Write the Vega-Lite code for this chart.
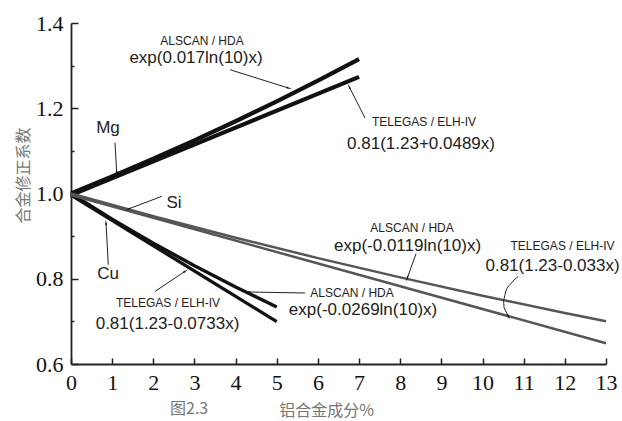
{
  "$schema": "https://vega.github.io/schema/vega-lite/v6.json",
  "width": 535,
  "height": 341,
  "autosize": "none",
  "padding": {"left": 71, "top": 23, "right": 16, "bottom": 57},
  "background": "white",
  "config": {"view": {"stroke": null}},
  "title": {"text": "图2.3", "orient": "bottom", "anchor": "start", "frame": "group", "align": "left", "dx": 99, "dy": -21, "font": "Noto Sans CJK SC", "fontSize": 16, "fontWeight": "normal", "color": "#777"},
  "datasets": {
    "curves": [
      {"series": "Mg ALSCAN", "group": "Mg", "x": 0, "y": 1.0},
      {"series": "Mg ALSCAN", "group": "Mg", "x": 1, "y": 1.0399},
      {"series": "Mg ALSCAN", "group": "Mg", "x": 2, "y": 1.0814},
      {"series": "Mg ALSCAN", "group": "Mg", "x": 3, "y": 1.1246},
      {"series": "Mg ALSCAN", "group": "Mg", "x": 4, "y": 1.1695},
      {"series": "Mg ALSCAN", "group": "Mg", "x": 5, "y": 1.2162},
      {"series": "Mg ALSCAN", "group": "Mg", "x": 6, "y": 1.2647},
      {"series": "Mg ALSCAN", "group": "Mg", "x": 7, "y": 1.3152},
      {"series": "Mg TELEGAS", "group": "Mg", "x": 0, "y": 0.9963},
      {"series": "Mg TELEGAS", "group": "Mg", "x": 7, "y": 1.2736},
      {"series": "Cu ALSCAN", "group": "Cu", "x": 0, "y": 1.0},
      {"series": "Cu ALSCAN", "group": "Cu", "x": 1, "y": 0.9400},
      {"series": "Cu ALSCAN", "group": "Cu", "x": 2, "y": 0.8836},
      {"series": "Cu ALSCAN", "group": "Cu", "x": 3, "y": 0.8306},
      {"series": "Cu ALSCAN", "group": "Cu", "x": 4, "y": 0.7807},
      {"series": "Cu ALSCAN", "group": "Cu", "x": 5, "y": 0.7339},
      {"series": "Cu TELEGAS", "group": "Cu", "x": 0, "y": 0.9963},
      {"series": "Cu TELEGAS", "group": "Cu", "x": 5, "y": 0.6994},
      {"series": "Si ALSCAN", "group": "Si", "x": 0, "y": 1.0},
      {"series": "Si ALSCAN", "group": "Si", "x": 2, "y": 0.9467},
      {"series": "Si ALSCAN", "group": "Si", "x": 4, "y": 0.8962},
      {"series": "Si ALSCAN", "group": "Si", "x": 6, "y": 0.8484},
      {"series": "Si ALSCAN", "group": "Si", "x": 8, "y": 0.8032},
      {"series": "Si ALSCAN", "group": "Si", "x": 10, "y": 0.7603},
      {"series": "Si ALSCAN", "group": "Si", "x": 12, "y": 0.7198},
      {"series": "Si ALSCAN", "group": "Si", "x": 13, "y": 0.7003},
      {"series": "Si TELEGAS", "group": "Si", "x": 0, "y": 0.9963},
      {"series": "Si TELEGAS", "group": "Si", "x": 13, "y": 0.6488}
    ],
    "arrows": [
      {"id": "a1", "x": 3.864, "y": 1.2904, "x2": 5.281, "y2": 1.2475},
      {"id": "a2", "x": 7.145, "y": 1.1771, "x2": 6.763, "y2": 1.2498},
      {"id": "a3", "x": 1.069, "y": 1.1192, "x2": 1.111, "y2": 1.0481},
      {"id": "a4", "x": 2.204, "y": 0.9932, "x2": 1.392, "y2": 0.9636},
      {"id": "a5", "x": 0.906, "y": 0.8330, "x2": 0.851, "y2": 0.9308},
      {"id": "a6", "x": 2.041, "y": 0.7703, "x2": 2.770, "y2": 0.8173},
      {"id": "a7", "x": 5.687, "y": 0.7666, "x2": 4.309, "y2": 0.7689},
      {"id": "a8", "x": 8.384, "y": 0.8588, "x2": 8.172, "y2": 0.8018},
      {"id": "a9", "x": 10.523, "y": 0.7321, "x2": 10.627, "y2": 0.7117}
    ],
    "curve": [
      {"ord": 1, "x": 10.870, "y": 0.8055},
      {"ord": 2, "x": 10.700, "y": 0.7900},
      {"ord": 3, "x": 10.560, "y": 0.7690},
      {"ord": 4, "x": 10.505, "y": 0.7490},
      {"ord": 5, "x": 10.523, "y": 0.7321}
    ],
    "labels": [
      {"kind": "small", "text": "ALSCAN / HDA", "x": 3.183, "y": 1.3575},
      {"kind": "big", "text": "exp(0.017ln(10)x)", "x": 3.038, "y": 1.3186},
      {"kind": "small", "text": "TELEGAS / ELH-IV", "x": 8.578, "y": 1.1680},
      {"kind": "big", "text": "0.81(1.23+0.0489x)", "x": 8.505, "y": 1.1169},
      {"kind": "big", "text": "Mg", "x": 0.899, "y": 1.1544},
      {"kind": "big", "text": "Si", "x": 2.503, "y": 0.9784},
      {"kind": "big", "text": "Cu", "x": 0.899, "y": 0.8118},
      {"kind": "small", "text": "TELEGAS / ELH-IV", "x": 2.357, "y": 0.7440},
      {"kind": "big", "text": "0.81(1.23-0.0733x)", "x": 2.345, "y": 0.6945},
      {"kind": "small", "text": "ALSCAN / HDA", "x": 6.829, "y": 0.7660},
      {"kind": "big", "text": "exp(-0.0269ln(10)x)", "x": 7.096, "y": 0.7274},
      {"kind": "small", "text": "ALSCAN / HDA", "x": 8.287, "y": 0.9185},
      {"kind": "big", "text": "exp(-0.0119ln(10)x)", "x": 8.177, "y": 0.8759},
      {"kind": "small", "text": "TELEGAS / ELH-IV", "x": 11.944, "y": 0.8775},
      {"kind": "big", "text": "0.81(1.23-0.033x)", "x": 11.701, "y": 0.8306}
    ]
  },
  "layer": [
    {
      "data": {"name": "curves"},
      "mark": {"type": "line", "strokeCap": "butt"},
      "encoding": {
        "x": {"field": "x", "type": "quantitative",
          "scale": {"domain": [0, 13], "nice": false, "zero": false},
          "axis": {
            "title": "铝合金成分%",
            "values": [0,0.5,1,1.5,2,2.5,3,3.5,4,4.5,5,5.5,6,6.5,7,7.5,8,8.5,9,9.5,10,10.5,11,11.5,12,12.5,13],
            "labelExpr": "datum.value % 1 === 0 ? datum.label : ''",
            "tickSize": {"condition": {"test": "datum.value % 1 === 0", "value": -6}, "value": -3},
            "labelPadding": 14,
            "labelFlush": false,
            "labelOverlap": false,
            "labelFont": "Liberation Serif", "labelFontSize": 22, "labelColor": "#111",
            "domainColor": "#222", "domainWidth": 1.8, "tickColor": "#222", "tickWidth": 1.5,
            "grid": false,
            "titleX": 255, "titleY": 46, "titleBaseline": "middle", "titleAlign": "center",
            "titleFont": "Noto Sans CJK SC", "titleFontSize": 16, "titleFontWeight": "normal", "titleColor": "#777"
          }},
        "y": {"field": "y", "type": "quantitative",
          "scale": {"domain": [0.6, 1.4], "nice": false, "zero": false},
          "axis": {
            "title": "合金修正系数",
            "values": [0.6,0.7,0.8,0.9,1.0,1.1,1.2,1.3,1.4],
            "labelExpr": "round(datum.value*10) % 2 === 0 ? format(datum.value, '.1f') : ''",
            "tickSize": {"condition": {"test": "round(datum.value*10) % 2 === 0", "value": -7}, "value": -3},
            "labelPadding": 15,
            "labelFlush": false,
            "labelOverlap": false,
            "labelFont": "Liberation Serif", "labelFontSize": 22, "labelColor": "#111",
            "domainColor": "#222", "domainWidth": 1.8, "tickColor": "#222", "tickWidth": 1.5,
            "grid": false,
            "titleX": -48, "titleY": 152, "titleBaseline": "middle", "titleAlign": "center", "titleAngle": -90,
            "titleFont": "Noto Sans CJK SC", "titleFontSize": 16, "titleFontWeight": "normal", "titleColor": "#777"
          }},
        "detail": {"field": "series", "type": "nominal"},
        "strokeWidth": {"field": "group", "type": "nominal", "scale": {"domain": ["Mg", "Cu", "Si"], "range": [4.2, 2.5, 0.9]}, "legend": null},
        "color": {"field": "group", "type": "nominal", "scale": {"domain": ["Mg", "Cu", "Si"], "range": ["#111111", "#111111", "#555555"]}, "legend": null}
      }
    },
    {
      "data": {"name": "arrows"},
      "mark": {"type": "rule", "color": "#222", "strokeWidth": 1},
      "encoding": {
        "x": {"field": "x", "type": "quantitative"},
        "y": {"field": "y", "type": "quantitative"},
        "x2": {"field": "x2"},
        "y2": {"field": "y2"}
      }
    },
    {
      "data": {"name": "curve"},
      "mark": {"type": "line", "color": "#222", "strokeWidth": 1, "interpolate": "monotone"},
      "encoding": {
        "x": {"field": "x", "type": "quantitative"},
        "y": {"field": "y", "type": "quantitative"},
        "order": {"field": "ord", "type": "quantitative"}
      }
    },
    {
      "data": {"name": "arrows"},
      "transform": [{"calculate": "atan2((datum.x2 - datum.x) * 41.15, (datum.y2 - datum.y) * 426.25) * 180 / PI", "as": "ang"}],
      "mark": {"type": "point", "shape": "wedge", "filled": true, "color": "#111", "size": 45, "opacity": 1},
      "encoding": {
        "x": {"field": "x2", "type": "quantitative"},
        "y": {"field": "y2", "type": "quantitative"},
        "angle": {"field": "ang", "type": "quantitative", "scale": null}
      }
    },
    {
      "data": {"name": "labels"},
      "transform": [{"filter": "datum.kind === 'small'"}],
      "mark": {"type": "text", "font": "Liberation Sans", "fontSize": 12, "color": "#222", "align": "center", "baseline": "middle"},
      "encoding": {
        "x": {"field": "x", "type": "quantitative"},
        "y": {"field": "y", "type": "quantitative"},
        "text": {"field": "text"}
      }
    },
    {
      "data": {"name": "labels"},
      "transform": [{"filter": "datum.kind === 'big'"}],
      "mark": {"type": "text", "font": "Liberation Sans", "fontSize": 17, "color": "#222", "align": "center", "baseline": "middle"},
      "encoding": {
        "x": {"field": "x", "type": "quantitative"},
        "y": {"field": "y", "type": "quantitative"},
        "text": {"field": "text"}
      }
    }
  ],
  "resolve": {"scale": {"x": "shared", "y": "shared"}}
}
